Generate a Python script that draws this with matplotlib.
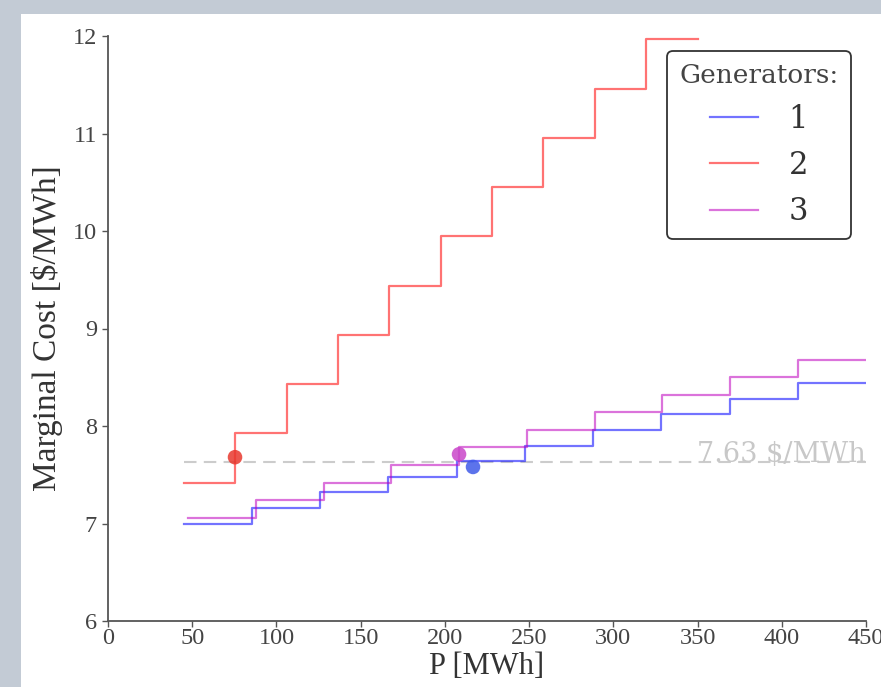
import matplotlib
matplotlib.use('Agg')
import matplotlib.pyplot as plt
from matplotlib.patches import Rectangle

# --- data
gen1_edges = [45, 85.5, 126, 166.5, 207, 247.5, 288, 328.5, 369, 409.5, 450]
gen1_cost = [7.00, 7.16, 7.32, 7.48, 7.64, 7.80, 7.96, 8.12, 8.28, 8.44]

gen2_edges = [45, 75.5, 106, 136.5, 167, 197.5, 228, 258.5, 289, 319.5, 350]
gen2_cost = [7.42, 7.925, 8.43, 8.935, 9.44, 9.945, 10.45, 10.955, 11.46, 11.965]

gen3_edges = [47.7, 87.9, 128.1, 168.3, 208.5, 248.7, 288.9, 329.1, 369.3, 409.5, 449.7]
gen3_cost = [7.06, 7.24, 7.42, 7.60, 7.78, 7.96, 8.14, 8.32, 8.50, 8.68]

# dispatch points (P, cost) per generator
dispatch_p = [216.7, 75.4, 208.4]
dispatch_c = [7.58, 7.68, 7.71]

price = 7.63
price_label = '7.63 $/MWh'

x_ticks = list(range(0, 451, 50))
y_ticks = list(range(6, 13))
gen_labels = ['1', '2', '3']

line_colors = ['blue', 'red', 'm']
dot_colors = ['#3f5be8', '#e8382e', '#c947c9']

W, H = 881, 687
fig = plt.figure(figsize=(W / 100, H / 100), dpi=100)
fig.patch.set_facecolor('#c3cbd5')
fig.patches.append(Rectangle((21 / W, 0), 1 - 21 / W, 1 - 14 / H,
                             transform=fig.transFigure, facecolor='white',
                             edgecolor='none', zorder=-10))

ax = fig.add_axes([108 / W, 1 - 621 / H, (866 - 108) / W, (621 - 36) / H])
ax.set_facecolor('none')

series = [(gen1_edges, gen1_cost), (gen2_edges, gen2_cost), (gen3_edges, gen3_cost)]
for (edges, cost), col, lab in zip(series, line_colors, gen_labels):
    ax.step(edges, cost + [cost[-1]], where='post', color=col, alpha=0.55,
            lw=1.6, label=lab, zorder=3)

ax.plot([45, 450], [price, price], color='#cccccc', lw=1.5, dashes=(6, 3.5), zorder=2)
ax.text(450, price, price_label, ha='right', va='baseline', color='#c8c8c8',
        family='DejaVu Serif', fontsize=19.5, zorder=2)

for p, c, col in zip(dispatch_p, dispatch_c, dot_colors):
    ax.scatter(p, c, s=110, color=col, alpha=0.85, edgecolors='none', zorder=4)

ax.set_xlim(0, 450)
ax.set_ylim(6, 12)
ax.set_xticks(x_ticks)
ax.set_yticks(y_ticks)
ax.spines['top'].set_visible(False)
ax.spines['right'].set_visible(False)
for s in ['left', 'bottom']:
    ax.spines[s].set_color('#555555')
    ax.spines[s].set_linewidth(1.3)
ax.tick_params(colors='#555555', length=4, width=1, labelcolor='#444444')
for t in ax.get_xticklabels() + ax.get_yticklabels():
    t.set_family('Liberation Serif')
    t.set_fontsize(17.5)
ax.tick_params(axis='x', pad=1)
ax.tick_params(axis='y', pad=4)

ax.set_xlabel('P [MWh]', family='Liberation Serif', fontsize=22, color='#333333', labelpad=2)
ax.set_ylabel('Marginal Cost [$/MWh]', family='Liberation Serif', fontsize=24,
              color='#333333', labelpad=7)

leg = ax.legend(title='Generators:', loc='upper right', bbox_to_anchor=(0.98, 0.974),
                borderaxespad=0, prop={'family': 'DejaVu Serif', 'size': 22},
                title_fontproperties={'family': 'DejaVu Serif', 'size': 19},
                handlelength=1.57, handletextpad=1.0, labelspacing=0.5,
                borderpad=0.4, fancybox=True, framealpha=1)
leg.get_frame().set_edgecolor('#333333')
leg.get_frame().set_linewidth(1.3)
leg.get_title().set_color('#444444')
for t in leg.get_texts():
    t.set_color('#333333')
for h in leg.get_lines():
    h.set_linewidth(1.6)

fig.savefig('out.png', dpi=100, facecolor=fig.get_facecolor())
